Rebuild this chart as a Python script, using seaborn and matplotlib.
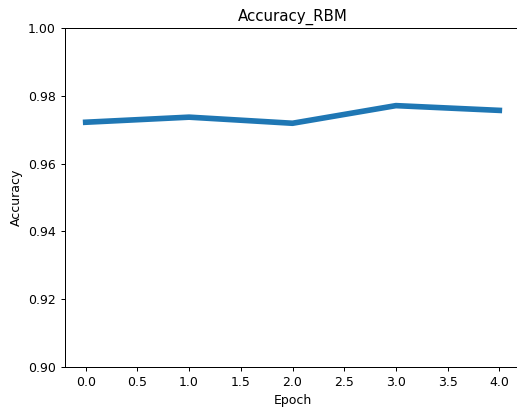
import matplotlib
matplotlib.use("Agg")
import matplotlib.pyplot as plt
import seaborn as sns
import pandas as pd

epochs = [0, 1, 2, 3, 4]
accuracy = [0.9722, 0.9737, 0.9719, 0.9771, 0.9757]

df = pd.DataFrame({"Epoch": epochs, "Accuracy": accuracy})

s = 0.9
plt.rcParams.update({
    "font.size": 10 * s,
    "xtick.labelsize": 10 * s,
    "ytick.labelsize": 10 * s,
    "axes.labelsize": 10 * s,
    "axes.titlesize": 12 * s,
    "xtick.major.size": 3.5 * s,
    "ytick.major.size": 3.5 * s,
    "axes.linewidth": 0.8 * s,
    "xtick.major.width": 0.8 * s,
    "ytick.major.width": 0.8 * s,
})

fig = plt.figure(figsize=(5.17, 4.07), dpi=100)
ax = fig.add_axes([65 / 517, 40 / 407, 455 / 517, 339 / 407])
sns.lineplot(data=df, x="Epoch", y="Accuracy", ax=ax, linewidth=4.5 * s, color="#1f77b4")
ax.set_ylim(0.90, 1.00)
ax.set_xlim(-0.2, 4.2)
ax.set_xticks([0, 0.5, 1, 1.5, 2, 2.5, 3, 3.5, 4])
ax.set_yticks([0.90, 0.92, 0.94, 0.96, 0.98, 1.00])
ax.set_title("Accuracy_RBM", pad=6 * s)
ax.xaxis.labelpad = 4 * s
ax.yaxis.labelpad = 4 * s
fig.savefig("out.png", dpi=100)
